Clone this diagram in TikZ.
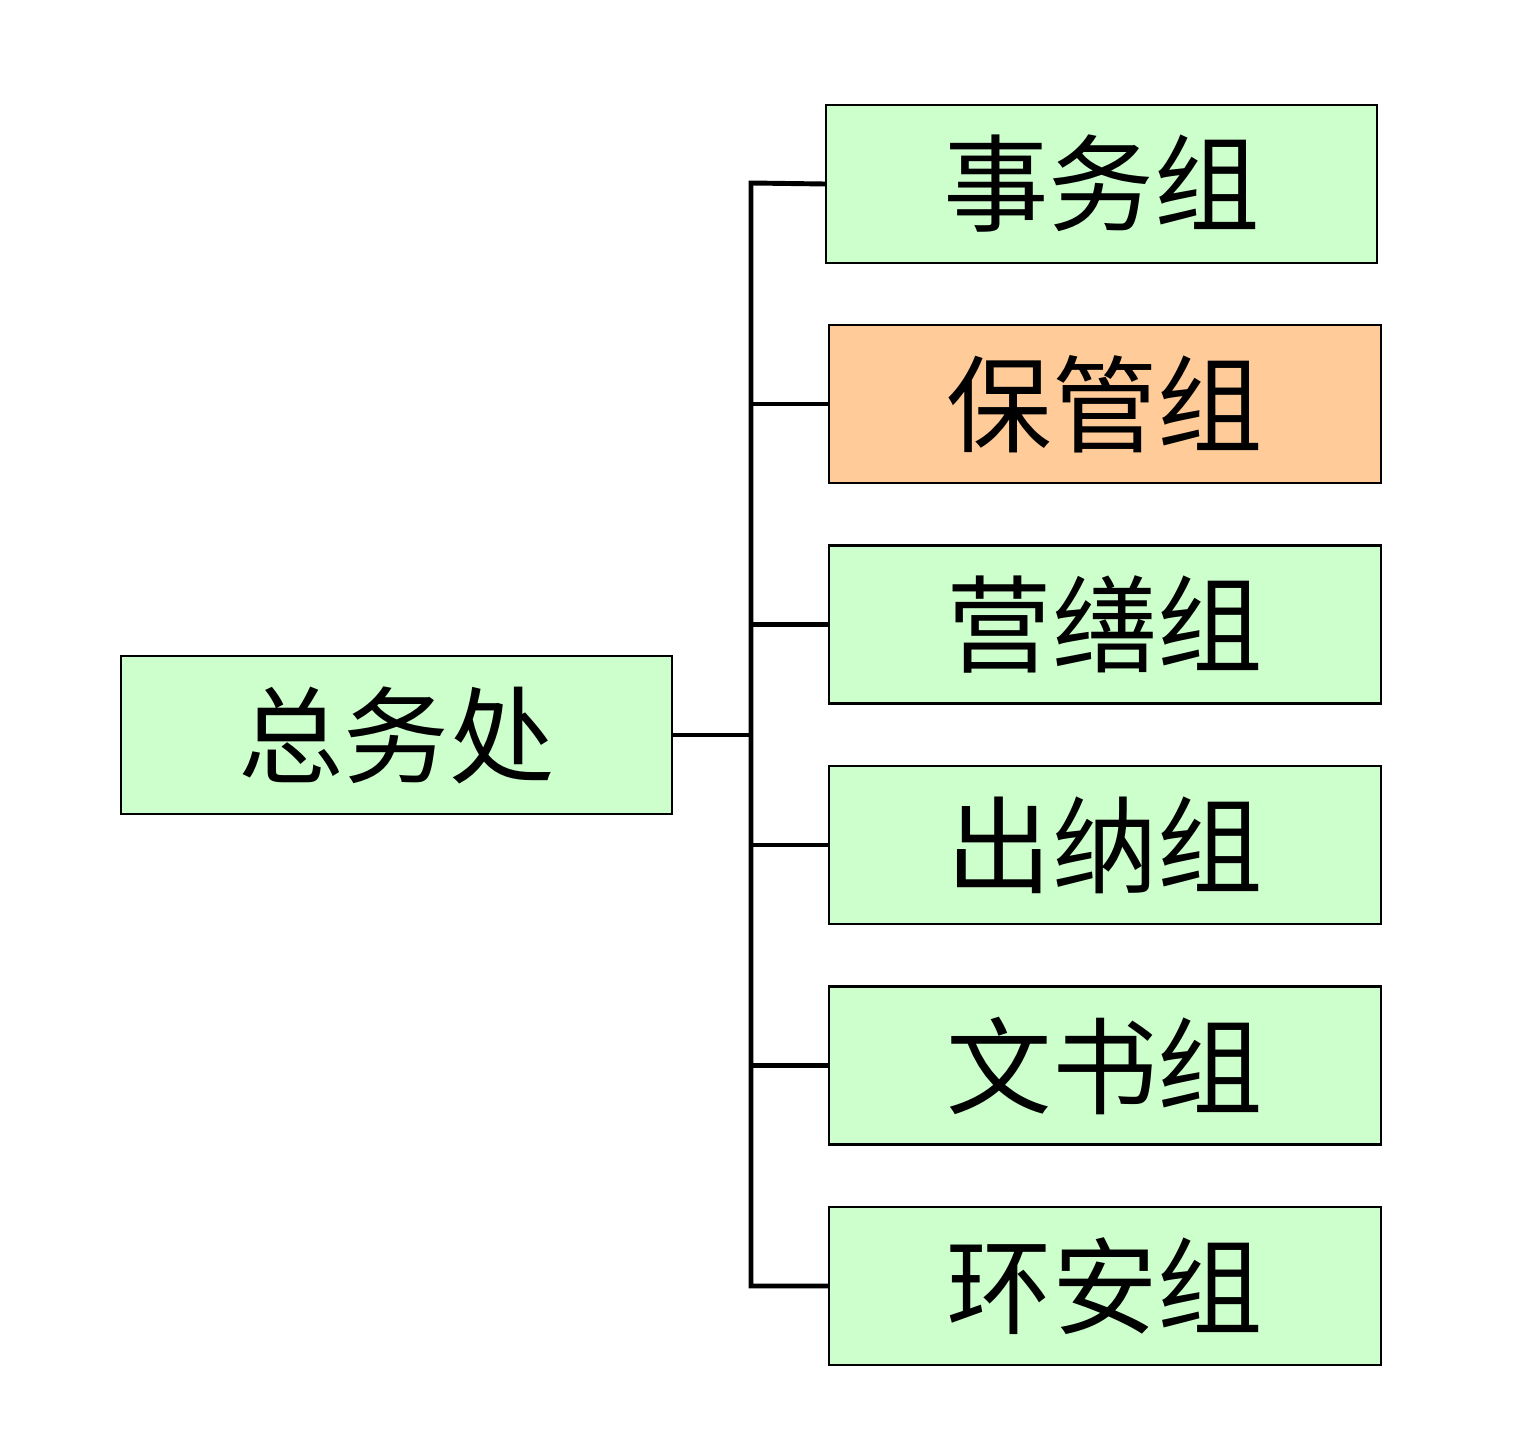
\documentclass[tikz,border=0pt]{standalone}
\usepackage{fontspec}
\newfontfamily\cjk{Noto Sans CJK SC}
\definecolor{boxgreen}{HTML}{CCFFCC}
\definecolor{boxorange}{HTML}{FFCC99}
\begin{document}
\begin{tikzpicture}[x=0.01cm,y=-0.01cm,
  org/.style={draw=black,line width=0.6pt,fill=boxgreen,minimum width=5.51cm,minimum height=1.58cm,inner sep=0pt,font=\cjk\fontsize{30}{36}\selectfont},
  link/.style={draw=black,line width=1.4pt}]
\useasboundingbox (0,0) rectangle (1539,1452);
\node[org] (root) at (396.5,735) {总务处};
\node[org] (a) at (1101.5,184) {事务组};
\node[org,fill=boxorange] (b) at (1105,404) {保管组};
\node[org] (c) at (1105,624.5) {营缮组};
\node[org] (d) at (1105,845) {出纳组};
\node[org] (e) at (1105,1065.5) {文书组};
\node[org] (f) at (1105,1286) {环安组};
\coordinate (j) at (751,735);
\coordinate (top) at (751,183);
\coordinate (bot) at (751,1286);
\draw[link] (root.east) -- (j);
\draw[link] (a.west) -- (top) -- (bot) -- (f.west);
\foreach \n in {b,c,d,e} \draw[link] (\n.west) -- (\n.west -| j);
\end{tikzpicture}
\end{document}
